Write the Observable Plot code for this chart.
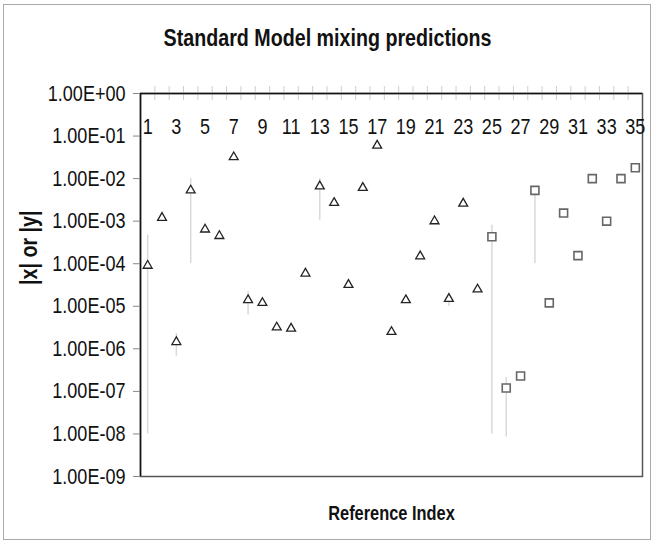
<!DOCTYPE html>
<html><head><meta charset="utf-8">
<script src="https://cdn.jsdelivr.net/npm/d3@7"></script>
<script src="https://cdn.jsdelivr.net/npm/@observablehq/plot@0.6"></script>
<style>
body{margin:0;background:#fff;}
#wrap{position:relative;width:654px;height:545px;}
#border{position:absolute;left:3px;top:4px;width:646px;height:534px;border:1px solid #aaa;pointer-events:none;}
</style></head><body><div id="wrap"></div>
<script>
// Data
const refIndex = [1,2,3,4,5,6,7,8,9,10,11,12,13,14,15,16,17,18,19,20,21,22,23,24,25,26,27,28,29,30,31,32,33,34,35];
const kind = ["x","x","x","x","x","x","x","x","x","x","x","x","x","x","x","x","x","x","x","x","x","x","x","x",
              "y","y","y","y","y","y","y","y","y","y","y"];
const values = [9e-5, 1.2e-3, 1.45e-6, 5.3e-3, 6.4e-4, 4.5e-4, 3.2e-2, 1.4e-5, 1.2e-5, 3.2e-6,
                3.0e-6, 5.9e-5, 6.6e-3, 2.7e-3, 3.2e-5, 6.1e-3, 6.0e-2, 2.5e-6, 1.4e-5, 1.5e-4,
                1.0e-3, 1.5e-5, 2.6e-3, 2.5e-5, 4.3e-4, 1.2e-7, 2.3e-7, 5.3e-3, 1.2e-5, 1.55e-3,
                1.55e-4, 1.0e-2, 1.0e-3, 1.0e-2, 1.8e-2];
const errIndex = [1, 3, 4, 8, 13, 22, 25, 26, 28];
const errLow   = [1e-8, 6.7e-7, 1e-4, 6.2e-6, 1.05e-3, 1.0e-5, 1e-8, 8.5e-9, 1e-4];
const errHigh  = [4.7e-4, 2.3e-6, 1e-2, 2.2e-5, 1e-2, 1.5e-5, 8e-4, 2.1e-7, 5.3e-3];
const xTickLabels = [1,3,5,7,9,11,13,15,17,19,21,23,25,27,29,31,33,35];
const yTicks = [1, 1e-1, 1e-2, 1e-3, 1e-4, 1e-5, 1e-6, 1e-7, 1e-8, 1e-9];
const yTickLabels = ["1.00E+00","1.00E-01","1.00E-02","1.00E-03","1.00E-04","1.00E-05","1.00E-06","1.00E-07","1.00E-08","1.00E-09"];
const title = "Standard Model mixing predictions";
const xTitle = "Reference Index";
const yTitle = "|x| or |y|";

const points = refIndex.map((i, k) => ({i, v: values[k], kind: kind[k]}));
const bars = errIndex.map((i, k) => ({i, lo: errLow[k], hi: errHigh[k]}));
const boundaries = refIndex.slice(0, -1).map(d => d + 0.5);

const F = '"Liberation Sans", Arial, sans-serif';

const chart = Plot.plot({
  width: 654, height: 545,
  marginLeft: 140, marginRight: 12, marginTop: 93, marginBottom: 69,
  style: {fontFamily: F, background: "white", color: "#111"},
  x: {type: "linear", domain: [0.5, 35.5], axis: null},
  y: {type: "log", domain: [1e-9, 1], axis: null},
  marks: [
    Plot.ruleX(bars, {x: "i", y1: "lo", y2: "hi", stroke: "#d9d9d9", strokeWidth: 1.5}),
    Plot.frame({stroke: "#555", strokeWidth: 1.5}),
    Plot.ruleX(boundaries, {x: d => d, y1: () => 1, y2: () => 1, insetTop: -7, insetBottom: -7, stroke: "#cfcfcf", strokeWidth: 1}),
    Plot.ruleY([1], {stroke: "#111", strokeWidth: 1.5}),
    Plot.ruleX([0.5], {stroke: "#111", strokeWidth: 1.5}),
    Plot.axisY({anchor: "left", ticks: yTicks, tickFormat: d => yTickLabels[yTicks.indexOf(d)],
      tickSize: 7, tickPadding: 8, fontSize: 22, stroke: "#888", fill: "#111", label: null}),
    Plot.text(xTickLabels, {x: d => d, text: d => String(d), frameAnchor: "top", lineAnchor: "middle", dy: 33, fontSize: 22, fill: "#111"}),
    Plot.dot(points.filter(d => d.kind === "x"), {x: "i", y: "v", symbol: "triangle", r: 3.3, fill: "white", stroke: "#222", strokeWidth: 1.3}),
    Plot.dot(points.filter(d => d.kind === "y"), {x: "i", y: "v", symbol: "square", r: 4.5, fill: "white", stroke: "#666", strokeWidth: 1.6}),
    Plot.text([title], {frameAnchor: "top", lineAnchor: "middle", dx: -64, dy: -55, fontSize: 24, fontWeight: "bold", fill: "#111"}),
    Plot.text([xTitle], {frameAnchor: "bottom", lineAnchor: "middle", dy: 37, fontSize: 20, fontWeight: "bold", fill: "#111"}),
    Plot.text([yTitle], {frameAnchor: "left", dx: -111.5, rotate: -90, fontSize: 24, fontWeight: "bold", fill: "#111"})
  ]
});
// Narrow, tall lettering like the reference: squeeze text horizontally
chart.querySelectorAll("text").forEach(t => {
  const tr = t.getAttribute("transform") || "";
  t.setAttribute("transform", tr + " scale(0.82,1)");
});
const wrap = document.getElementById("wrap");
wrap.appendChild(chart);
const b = document.createElement("div"); b.id = "border"; wrap.appendChild(b);
</script>
</body></html>
